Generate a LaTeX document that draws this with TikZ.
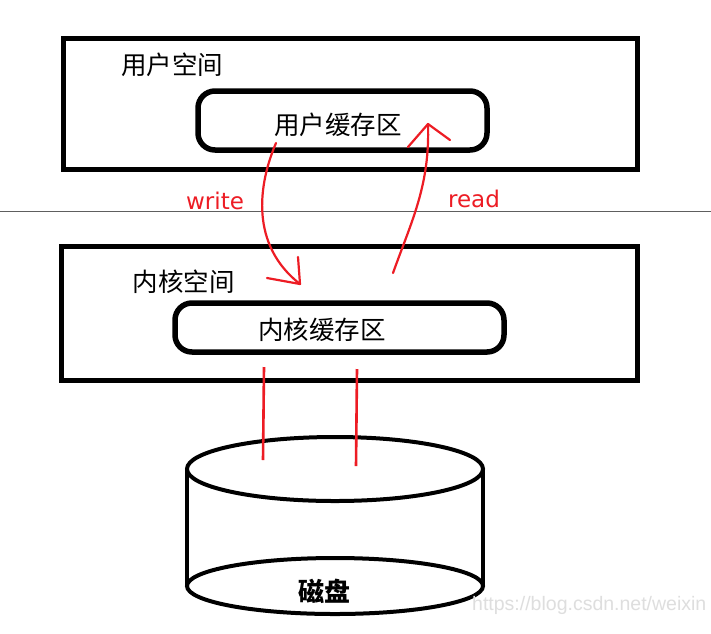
\documentclass[tikz,border=0pt]{standalone}
\usepackage{fontspec}
\newfontfamily\cjk{Noto Sans CJK SC}
\newfontfamily\latf{DejaVu Sans}
\newfontfamily\wmf{Liberation Sans}
\definecolor{pred}{HTML}{ED1C24}
\definecolor{sepgray}{HTML}{5E5E5E}
\tikzset{
  spacebox/.style={draw=black, line width=5pt, inner sep=0pt, fill=none},
  bufbox/.style={draw=black, line width=5.5pt, rounded corners=17pt, inner sep=0pt},
  cjktext/.style={inner sep=0pt, font=\cjk\fontsize{25.5}{30}\selectfont},
  redtext/.style={inner sep=0pt, text=pred, font=\latf\fontsize{23}{27}\selectfont},
  redline/.style={draw=pred, line width=2.6pt},
  redcurve/.style={draw=pred, line width=2.2pt, line cap=round, line join=round},
  cyl/.style={draw=black, line width=4pt},
}
\begin{document}
\begin{tikzpicture}[x=1pt, y=-1pt]
\useasboundingbox[fill=white] (0,0) rectangle (711,633);

% separator
\draw[sepgray, line width=1.6pt] (0,211.5) -- (711,211.5);

% user space
\node[spacebox, minimum width=574pt, minimum height=131pt] (user) at (350,103.5) {};
\node[cjktext] (userlbl) at (172,64.5) {用户空间};
\node[bufbox, minimum width=289pt, minimum height=59pt] (ubuf) at (342.5,120.5) {};
\node[cjktext] (ubuftxt) at (338,125) {用户缓存区};

% kernel space
\node[spacebox, minimum width=576pt, minimum height=134pt] (kern) at (349,313) {};
\node[cjktext] (kernlbl) at (183.5,281.5) {内核空间};
\node[bufbox, minimum width=329pt, minimum height=49pt] (kbuf) at (339.5,327.5) {};
\node[cjktext] (kbuftxt) at (322,329.5) {内核缓存区};

% labels
\node[redtext, anchor=base] (wlbl) at (215,209.5) {write};
\node[redtext, anchor=base] (rlbl) at (474,207) {read};

% write arrow
\coordinate (ws) at (276,143);
\coordinate (we) at (300,284);
\draw[redcurve] (ws) .. controls (258,185) and (250,245) .. (we);
\draw[redcurve] (we) -- ++(-2,-27);
\draw[redcurve] (we) -- ++(-33,-6);

% read arrow
\coordinate (rs) at (393,273);
\coordinate (re) at (428,124);
\draw[redcurve] (rs) .. controls (412,220) and (430,185) .. (re);
\draw[redcurve] (re) -- (408,147);
\draw[redcurve] (re) -- (450,140);

% disk cylinder
\coordinate (dtop) at (335,469);
\coordinate (dbot) at (335,586);
\draw[cyl] (187,469) -- (187,586);
\draw[cyl] (483,469) -- (483,586);
\draw[cyl, fill=white] (dtop) ellipse [x radius=148, y radius=32];
\draw[cyl] (dbot) ellipse [x radius=148, y radius=28];
\node[cjktext, font=\cjk\fontsize{26}{30}\selectfont\bfseries] (disk) at (324,591.5) {磁盘};

% red links between kernel buffer and disk
\coordinate (l1a) at (264,367);
\coordinate (l1b) at (263,460);
\coordinate (l2a) at (357,369);
\coordinate (l2b) at (356,466);
\draw[redline] (l1a) -- (l1b);
\draw[redline] (l2a) -- (l2b);

% watermark
\node[anchor=base west, inner sep=0pt, text=black!13, font=\wmf\fontsize{19.5}{23}\selectfont] (wm) at (472,610) {https://blog.csdn.net/weixin};
\end{tikzpicture}
\end{document}
